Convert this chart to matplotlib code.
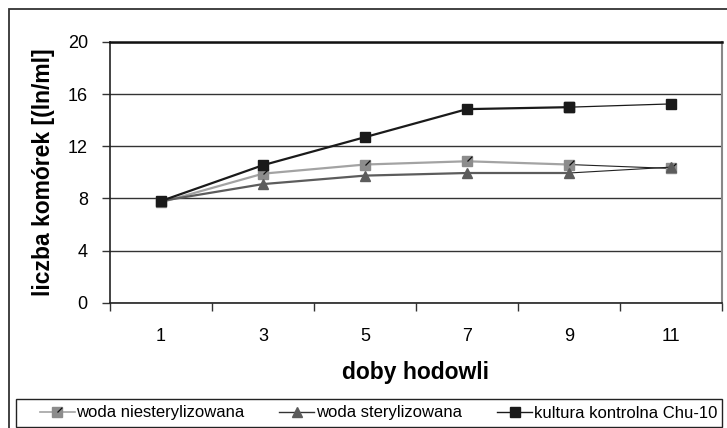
import numpy as np
import matplotlib
matplotlib.use("Agg")
from matplotlib import pyplot as plt
from matplotlib.path import Path
from matplotlib.lines import Line2D
from matplotlib.patches import Rectangle
from matplotlib.legend_handler import HandlerTuple

plt.rcParams['font.family'] = ['Liberation Sans', 'DejaVu Sans']

doby = ['1', '3', '5', '7', '9', '11']
niesteryl = [7.7, 9.9, 10.6, 10.85, 10.6, 10.3]
steryl = [7.8, 9.1, 9.75, 9.95, 9.95, 10.4]
chu10 = [7.8, 10.55, 12.7, 14.85, 15.0, 15.25]

names = ['woda niesterylizowana', 'woda sterylizowana', 'kultura kontrolna Chu-10']

fig = plt.figure(figsize=(7.27, 4.28), dpi=100)
ax = fig.add_axes([110/727, 1 - 302.7/428, 612/727, 260.7/428])

x = np.arange(len(doby))
slash = Path([(0, 0), (0.5, 0.5)], [Path.MOVETO, Path.LINETO])

# main lines (last segment drawn thin and black like in the original)
ax.plot(x[:5], niesteryl[:5], color='#a3a3a3', lw=1.6, marker='s', ms=7.5,
        mfc='#8c8c8c', mec='#8c8c8c', zorder=3)
ax.plot(x[4:], niesteryl[4:], color='#222222', lw=0.8, zorder=2.9)
ax.plot(x[5:], niesteryl[5:], ls='none', marker='s', ms=7.5, mfc='#8c8c8c', mec='#8c8c8c', zorder=3)
ax.plot(x, niesteryl, ls='none', marker=slash, ms=7, mec='#111111', mew=0.9, zorder=3.1)

ax.plot(x[:5], steryl[:5], color='#5c5c5c', lw=1.6, marker='^', ms=7,
        mfc='#5c5c5c', mec='#5c5c5c', zorder=4)
ax.plot(x[4:], steryl[4:], color='#222222', lw=0.8, zorder=3.9)
ax.plot(x[5:], steryl[5:], ls='none', marker='^', ms=7, mfc='#5c5c5c', mec='#5c5c5c', zorder=4)

ax.plot(x[:5], chu10[:5], color='#1a1a1a', lw=1.6, marker='s', ms=6.5,
        mfc='#1a1a1a', mec='#1a1a1a', zorder=5)
ax.plot(x[4:], chu10[4:], color='#1a1a1a', lw=0.9, marker='s', ms=6.5,
        mfc='#1a1a1a', mec='#1a1a1a', zorder=5)

ax.set_xlim(-0.5, len(doby) - 0.5)
ax.set_ylim(0, 20)
ax.set_yticks([0, 4, 8, 12, 16, 20])
ax.yaxis.grid(True, color='#333333', lw=1.0)
ax.set_axisbelow(True)

ax.set_xticks(np.arange(-0.5, len(doby)), labels=[''] * (len(doby) + 1))
ax.set_xticks(x, labels=doby, minor=True)
ax.tick_params(axis='x', which='major', direction='out', length=6, width=1, color='#333333')
ax.tick_params(axis='x', which='minor', length=0, pad=18, labelsize=13)
ax.tick_params(axis='y', direction='out', length=6, width=1, color='#333333', pad=10, labelsize=13)

for side in ['left', 'bottom']:
    ax.spines[side].set_color('#222222')
    ax.spines[side].set_linewidth(1.2)
ax.spines['top'].set_color('#111111')
ax.spines['top'].set_linewidth(1.8)
ax.spines['right'].set_color('#888888')
ax.spines['right'].set_linewidth(1.5)

ax.set_xlabel('doby hodowli', fontsize=16.5, fontweight='bold', labelpad=12)
ax.set_ylabel('liczba komórek [(ln/ml]', fontsize=16.5, fontweight='bold', labelpad=9)

# outer chart frame
fig.patches.append(Rectangle((8.5/727, -0.1), 1.2, 1 - 9/428 + 0.1, transform=fig.transFigure,
                             fill=False, ec='#333333', lw=1.3))
# legend box
fig.patches.append(Rectangle((16/727, 1/428), 706/727, 28/428, transform=fig.transFigure,
                             fill=False, ec='#222222', lw=1.0))

h1 = Line2D([], [], color='#a3a3a3', lw=1.2, marker='s', ms=7.5, mfc='#8c8c8c', mec='#8c8c8c')
h1b = Line2D([], [], ls='none', marker=slash, ms=7, mec='#111111', mew=0.9)
h2 = Line2D([], [], color='#333333', lw=1.0, marker='^', ms=7, mfc='#5c5c5c', mec='#5c5c5c')
h3 = Line2D([], [], color='#1a1a1a', lw=1.0, marker='s', ms=6.5, mfc='#1a1a1a', mec='#1a1a1a')
fig.legend([(h1, h1b), h2, h3], names, loc='center left',
           bbox_to_anchor=(37/727, 1/428, 683/727, 28/428), bbox_transform=fig.transFigure,
           ncol=3, mode='expand', fontsize=12, frameon=False,
           handlelength=2.1, handletextpad=0.12, borderpad=0.15, borderaxespad=0,
           handler_map={tuple: HandlerTuple(ndivide=1)})

fig.savefig('out.png', dpi=100, facecolor='white')
